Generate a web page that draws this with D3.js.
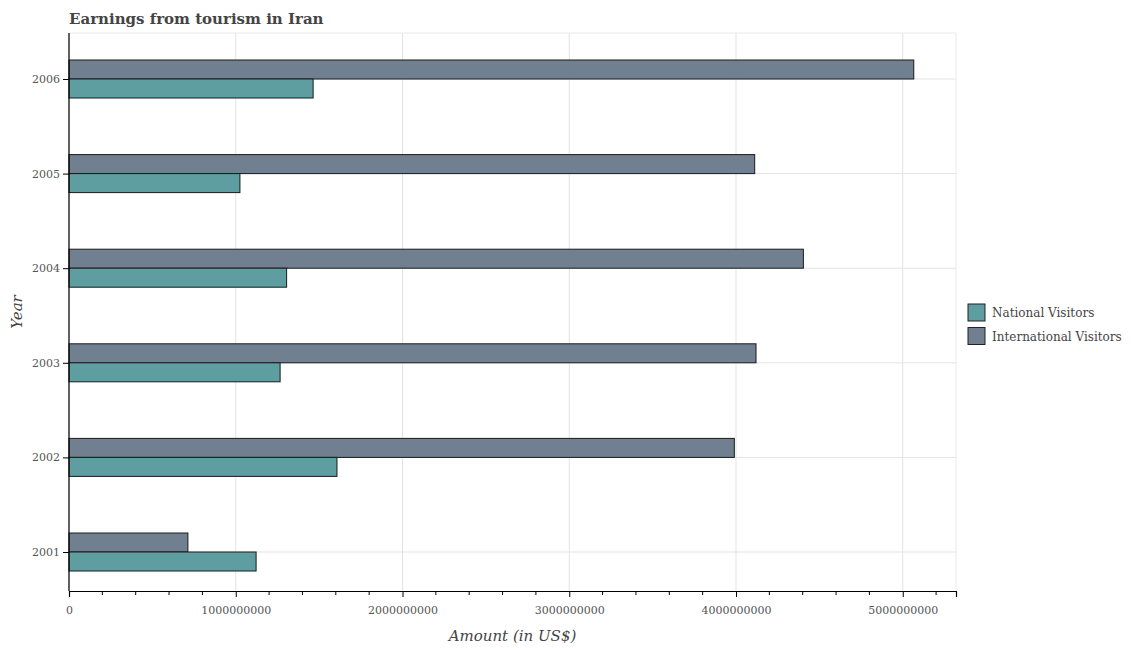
<!DOCTYPE html>
<html lang="en">
<head>
  <meta charset="UTF-8" />
  <title>Earnings from tourism in Iran</title>
  <script src="https://cdn.jsdelivr.net/npm/d3@7"></script>
  <style>
    body { margin: 0; background: #fff; }
    text { font-family: "DejaVu Serif", serif; }
  </style>
</head>
<body>
<script>
  // data
  const years = ["2001", "2002", "2003", "2004", "2005", "2006"];
  const nationalVisitors = [1.122e9, 1.607e9, 1.266e9, 1.305e9, 1.025e9, 1.464e9];
  const internationalVisitors = [0.713e9, 3.990e9, 4.120e9, 4.404e9, 4.112e9, 5.066e9];
  const xTicks = [0, 1e9, 2e9, 3e9, 4e9, 5e9];
  const seriesNames = ["National Visitors", "International Visitors"];
  const seriesColors = ["#5f9ea0", "#708090"];

  const width = 1131, height = 650;
  const margin = { top: 33, right: 175, bottom: 59, left: 69 };
  const innerW = width - margin.left - margin.right;
  const innerH = height - margin.top - margin.bottom;

  const svg = d3.select("body").append("svg")
    .attr("width", width)
    .attr("height", height);

  // title
  svg.append("text")
    .attr("x", margin.left)
    .attr("y", 24)
    .attr("font-size", 15)
    .attr("font-weight", "bold")
    .attr("fill", "#444")
    .text("Earnings from tourism in Iran");

  const g = svg.append("g").attr("transform", `translate(${margin.left},${margin.top})`);

  const x = d3.scaleLinear()
    .domain([0, d3.max(internationalVisitors) * 1.05])
    .range([0, innerW]);

  // category centres, the bottom gap is a bit smaller than the top one
  const y = d3.scalePoint()
    .domain(years)
    .range([innerH - 39, 46]);

  const barH = 19;

  // grid
  g.append("g").selectAll("line")
    .data(xTicks)
    .join("line")
    .attr("x1", d => x(d)).attr("x2", d => x(d))
    .attr("y1", 0).attr("y2", innerH)
    .attr("stroke", "#e3e3e3");
  g.append("g").selectAll("line")
    .data(years)
    .join("line")
    .attr("x1", 0).attr("x2", innerW)
    .attr("y1", d => y(d))
    .attr("y2", d => y(d))
    .attr("stroke", "#e3e3e3");
  // plot frame (top and right, light)
  g.append("line").attr("x1", 0).attr("x2", innerW).attr("y1", 0).attr("y2", 0).attr("stroke", "#eaeaea");
  g.append("line").attr("x1", innerW).attr("x2", innerW).attr("y1", 0).attr("y2", innerH).attr("stroke", "#eaeaea");

  // bars: international above the tick, national below
  const rows = years.map((yr, i) => ({ year: yr, nat: nationalVisitors[i], intl: internationalVisitors[i] }));

  g.append("g").selectAll("rect")
    .data(rows)
    .join("rect")
    .attr("x", 0)
    .attr("y", d => y(d.year) - barH)
    .attr("width", d => x(d.intl))
    .attr("height", barH)
    .attr("fill", seriesColors[1])
    .attr("stroke", "#1a1a1a")
    .attr("stroke-width", 1);

  g.append("g").selectAll("rect")
    .data(rows)
    .join("rect")
    .attr("x", 0)
    .attr("y", d => y(d.year))
    .attr("width", d => x(d.nat))
    .attr("height", barH)
    .attr("fill", seriesColors[0])
    .attr("stroke", "#1a1a1a")
    .attr("stroke-width", 1);

  // x axis with minor ticks
  const xAxis = g.append("g")
    .attr("transform", `translate(0,${innerH})`)
    .call(d3.axisBottom(x).tickValues(xTicks).tickFormat(d3.format("d")).tickSizeOuter(0).tickSize(6));
  const minor = d3.range(0, x.domain()[1], 2e8).filter(v => v % 1e9 !== 0);
  g.append("g")
    .attr("transform", `translate(0,${innerH})`)
    .selectAll("line")
    .data(minor)
    .join("line")
    .attr("x1", d => x(d)).attr("x2", d => x(d))
    .attr("y1", 0).attr("y2", 4)
    .attr("stroke", "#000");

  // y axis: ticks from the point scale, spine over the full plot height
  const yAxis = g.append("g")
    .call(d3.axisLeft(y).tickSizeOuter(0).tickSize(6));
  yAxis.select(".domain").attr("d", `M0,0V${innerH}`);

  [xAxis, yAxis].forEach(a => {
    a.select(".domain").attr("stroke", "#000").attr("stroke-width", 1.2);
    a.selectAll(".tick line").attr("stroke", "#000");
    a.selectAll(".tick text")
      .attr("font-family", "DejaVu Serif, serif")
      .attr("font-size", 11)
      .attr("fill", "#555");
  });
  xAxis.selectAll(".tick text").attr("dy", "1.3em");

  // axis titles
  svg.append("text")
    .attr("x", margin.left + innerW / 2)
    .attr("y", 641)
    .attr("text-anchor", "middle")
    .attr("font-size", 15)
    .attr("font-style", "italic")
    .attr("fill", "#444")
    .text("Amount (in US$)");

  svg.append("text")
    .attr("transform", `translate(22,${margin.top + innerH / 2}) rotate(-90)`)
    .attr("text-anchor", "middle")
    .attr("font-size", 15)
    .attr("font-style", "italic")
    .attr("fill", "#444")
    .text("Year");

  // legend
  const legend = svg.append("g").attr("transform", "translate(968,304)");
  seriesNames.forEach((name, i) => {
    const row = legend.append("g").attr("transform", `translate(0,${i * 23.5})`);
    row.append("rect")
      .attr("width", 17).attr("height", 17)
      .attr("fill", seriesColors[i])
      .attr("stroke", "#222");
    row.append("text")
      .attr("x", 24).attr("y", 13)
      .attr("font-size", 12)
      .attr("fill", "#444")
      .text(name);
  });
</script>
</body>
</html>
